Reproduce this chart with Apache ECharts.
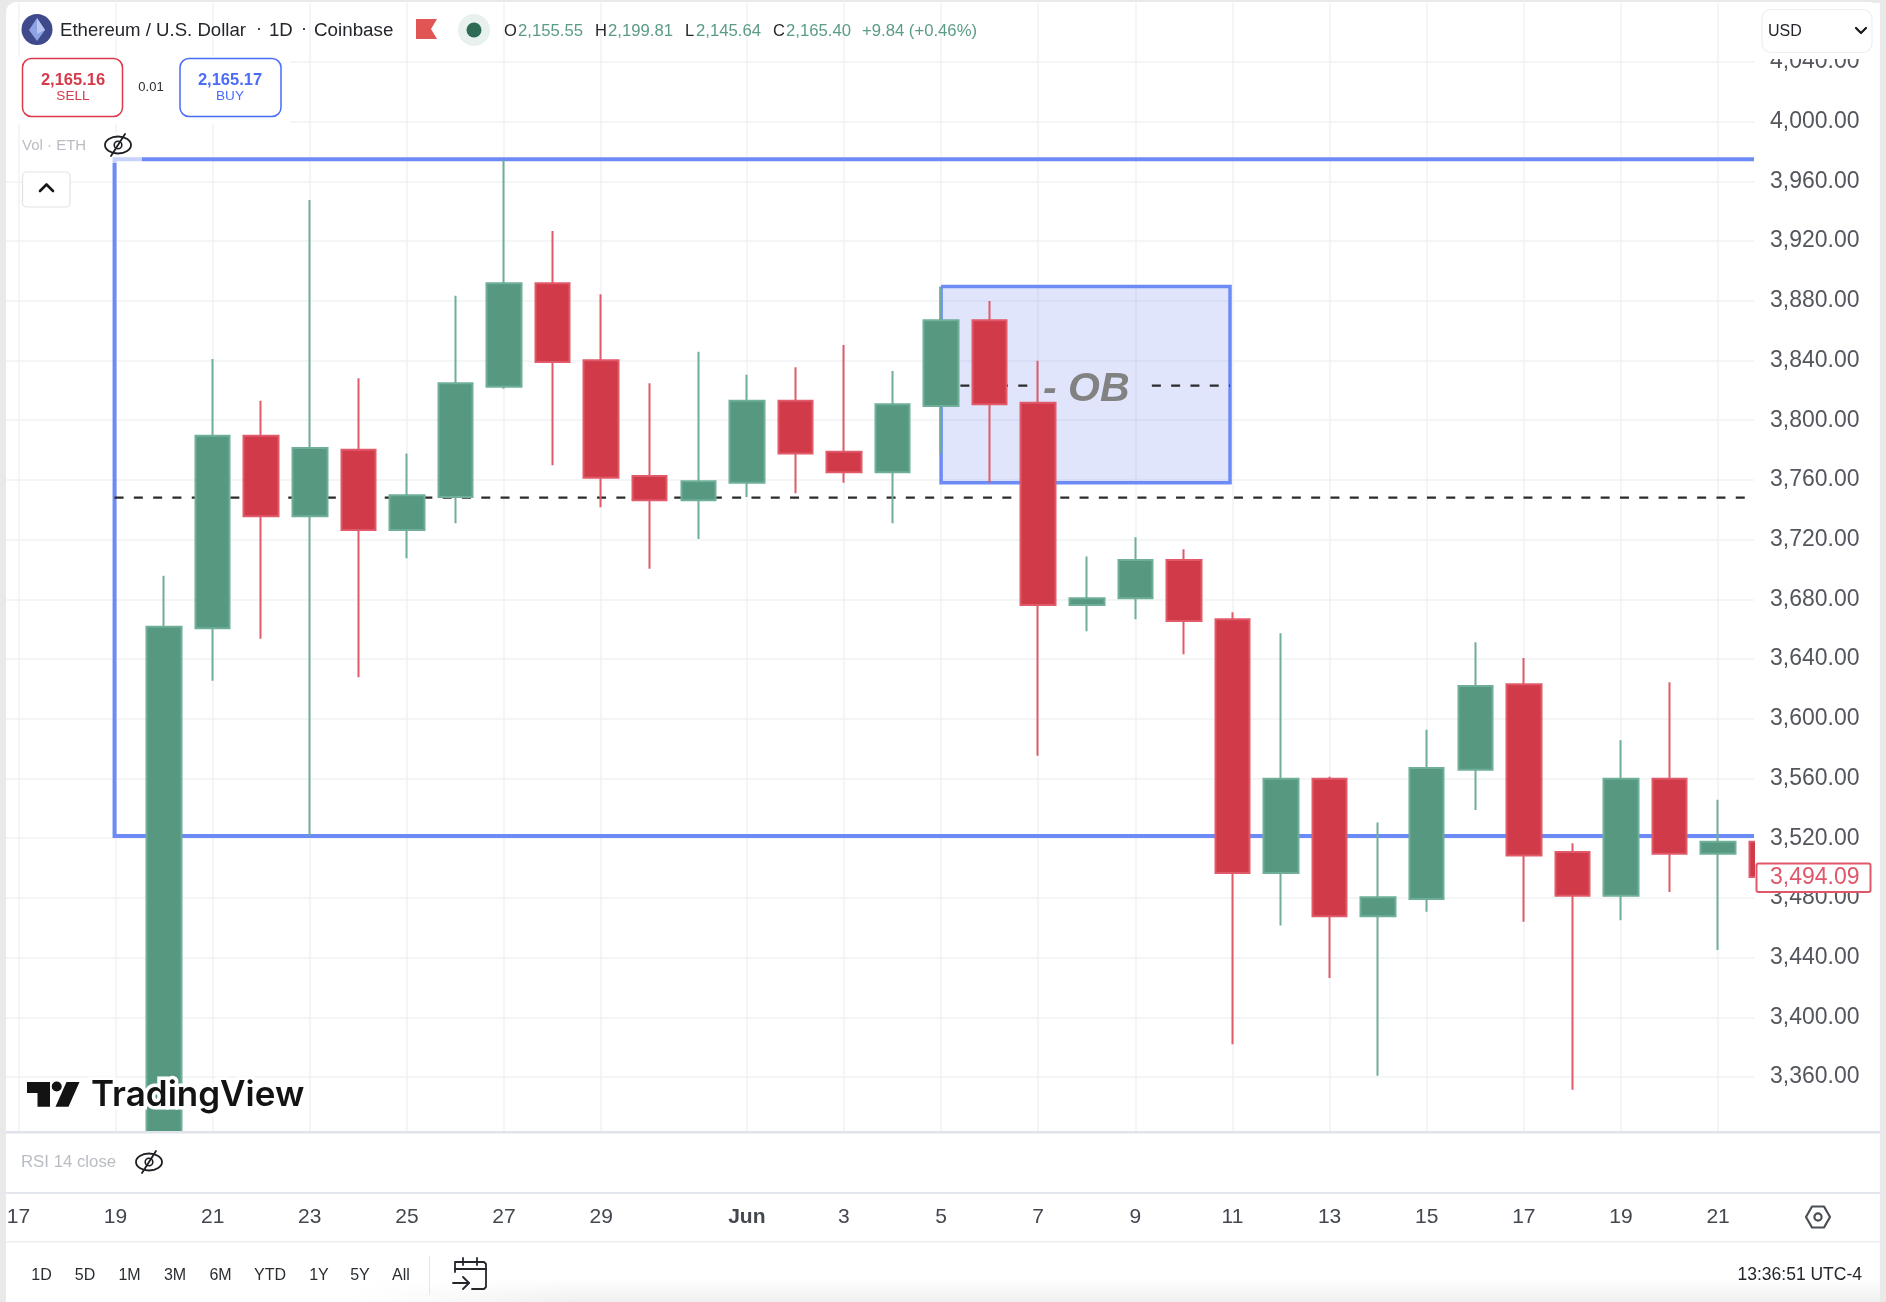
<!DOCTYPE html>
<html><head><meta charset="utf-8">
<script src="https://cdn.jsdelivr.net/npm/echarts@6/dist/echarts.min.js"></script>
<style>
html,body{margin:0;padding:0;background:#e9e9e9;width:1886px;height:1302px;overflow:hidden}
#panel{position:absolute;left:6px;top:2px;width:1874px;height:1300px;background:#fff;border-radius:10px 10px 0 0}
#fade{position:absolute;left:350px;top:1278px;width:1530px;height:24px;background:linear-gradient(to bottom,rgba(238,238,238,0),rgba(238,238,238,.9));-webkit-mask-image:linear-gradient(to right,transparent,#000 220px);mask-image:linear-gradient(to right,transparent,#000 220px)}
#c{position:absolute;left:0;top:0;width:1886px;height:1302px}
</style></head><body>
<div id="panel"></div><div id="fade"></div><div id="c"></div>
<script>
// Days counted from 17 May (index 0)
const days   = [3,4,5,6,7,8,9,10,11,12,13,14,15,16,17,18,19,20,21,22,23,24,25,26,27,28,29,30,31,32,33,34,35,36];
// The first candle runs off the bottom of the pane, so its open and low are the pane's lower edge.
const opens  = [3323.2,3660.6,3789.6,3735.6,3780.3,3726.5,3748.6,3822.5,3891.7,3840.2,3762.6,3746.4,3758.2,3813.1,3778.9,3765.1,3809.5,3867,3811.7,3676.2,3680.7,3706.4,3666.6,3496.7,3559.9,3467.7,3479.3,3565.9,3623.1,3510.7,3481.5,3559.9,3509.6,3517.6];
const closes = [3661.7,3789.6,3735.6,3781.4,3726.5,3749.7,3824.7,3891.7,3839,3761.5,3746.4,3759.1,3813.1,3777.8,3765.1,3810.7,3867,3810.7,3676.2,3680.7,3706.4,3665.5,3496.7,3559.9,3467.7,3480.4,3567,3622,3508.5,3481.5,3559.9,3509.6,3517.6,3494.09];
const highs  = [3695.9,3841,3813.1,3947.5,3828.1,3777.8,3883.4,3974.3,3926.8,3884.4,3824.7,3845.9,3830.5,3835.5,3850.4,3833,3889.3,3879.9,3839.9,3708.8,3721.6,3713.5,3671.3,3657.3,3561.2,3530.6,3592.7,3651.2,3640.7,3516.6,3585.6,3624.4,3545.8,3530];
const lows   = [3323.2,3625.5,3653.6,3521.5,3627.8,3707.5,3731,3821.1,3769.8,3741.7,3700.5,3720.4,3748.6,3751.1,3758.2,3731,3777.8,3758.2,3575.3,3658.6,3666.6,3643.2,3381.9,3461.6,3426.3,3360.9,3470.8,3538.9,3464.1,3351.5,3465,3484,3445.1,3480];
const xTickDays   = [0,2,4,6,8,10,12,15,17,19,21,23,25,27,29,31,33,35];
const xTickLabels = ['17','19','21','23','25','27','29','Jun','3','5','7','9','11','13','15','17','19','21'];
const yTicks = [4040,4000,3960,3920,3880,3840,3800,3760,3720,3680,3640,3600,3560,3520,3480,3440,3400,3360];
const xMin = -0.2554, xMax = 35.74, yMin = 3323.2, yMax = 4079.5;
const rangeBox = [[xMax,3974.8],[1.98,3974.8],[1.98,3521.5],[xMax,3521.5]];
const obBox = [[19,3889.6],[24.95,3889.6],[24.95,3758.2],[19,3758.2],[19,3889.6]];
const levelLong = [[1.98,3748.1],[xMax,3748.1]];
const levelObLeft = [[19,3823.2],[20.78,3823.2]];
const levelObRight = [[23.34,3823.2],[24.95,3823.2]];
const lastPrice = '3,494.09';

const SANS = '"Liberation Sans", Arial, sans-serif';
const Z = 100;
function txt(text,x,y,size,fill,o){o=o||{};
  return {type:'text',z:o.z||Z,silent:true,x:x,y:y,style:{text:text,fill:fill,
    font:(o.style?o.style+' ':'')+size+'px '+(o.family||SANS),
    align:o.align||'left',verticalAlign:'middle',textAlign:o.align||'left',textVerticalAlign:'middle',
    stroke:o.stroke,lineWidth:o.lineWidth,opacity:o.opacity}};
}
function rect(x,y,w,h,fill,o){o=o||{};
  return {type:'rect',z:o.z||Z,silent:true,shape:{x:x,y:y,width:w,height:h,r:o.r||0},style:{fill:fill,stroke:o.stroke,lineWidth:o.lw}};
}
function pl(points,stroke,lw){
  return {type:'polyline',z:Z,silent:true,shape:{points:points},style:{fill:'none',stroke:stroke,lineWidth:lw,lineCap:'round',lineJoin:'round'}};
}
function eye(cx,cy){
  const c='#1d1f23';
  return [
    {type:'ellipse',z:Z,silent:true,shape:{cx:cx,cy:cy,rx:13,ry:8.5},style:{fill:'none',stroke:c,lineWidth:1.8}},
    {type:'circle',z:Z,silent:true,shape:{cx:cx,cy:cy,r:3.8},style:{fill:'none',stroke:c,lineWidth:1.6}},
    pl([[cx-7,cy+11],[cx+7,cy-11]],c,1.8)
  ];
}
const graphics=[
  rect(1755,3,125,1128,'#fff',{z:90}),      // right strip: hides the part of the last candle beyond the pane
  rect(1755,3,124,56,'#fff',{z:Z-2}),
  rect(6,1131,1874,2.5,'#e0e3eb'),
  rect(6,1192,1874,2,'#e3e6ec'),
  rect(6,1241,1874,1.5,'#eceef1'),
  rect(429,1256,1,39,'#e3e5e8'),
  rect(112,156,30,7,'rgba(255,255,255,.62)'),
  {type:'circle',z:Z,silent:true,shape:{cx:37,cy:29.5,r:15.5},style:{fill:'#3f4a8c'}},
  {type:'polygon',z:Z,silent:true,shape:{points:[[37,18],[45,30],[37,41],[29,30]]},style:{fill:'#8ea3e4'}},
  {type:'polygon',z:Z,silent:true,shape:{points:[[37,18],[45,30],[37,34]]},style:{fill:'#b9c6f0'}},
  txt('Ethereum / U.S. Dollar',60,31,18.6,'#23262b'),
  txt('·',256,29,18,'#23262b'),
  txt('1D',269,31,18.6,'#23262b'),
  txt('·',301,29,18,'#23262b'),
  txt('Coinbase',314,31,18.8,'#23262b'),
  {type:'polygon',z:Z,silent:true,shape:{points:[[416,19],[437,19],[431,29],[437,39],[416,39]]},style:{fill:'#e25555'}},
  {type:'circle',z:Z,silent:true,shape:{cx:474,cy:30,r:16},style:{fill:'#e8f1ed'}},
  {type:'circle',z:Z,silent:true,shape:{cx:474,cy:30,r:7.5},style:{fill:'#2f6a55'}},
  txt('O',504,31,16.5,'#23262b'),txt('2,155.55',518,31,16.7,'#5b9c84'),
  txt('H',595,31,16.5,'#23262b'),txt('2,199.81',608,31,16.7,'#5b9c84'),
  txt('L',685,31,16.5,'#23262b'),txt('2,145.64',696,31,16.7,'#5b9c84'),
  txt('C',773,31,16.5,'#23262b'),txt('2,165.40',786,31,16.7,'#5b9c84'),
  txt('+9.84 (+0.46%)',862,31,16.7,'#5b9c84'),
  rect(6,56,284,68,'#fff',{z:Z-1}),
  rect(22.5,58.5,100,58,'#fff',{r:9,stroke:'#dc3a4a',lw:1.5}),
  txt('2,165.16',73,80,16.5,'#d63a4a',{align:'center',style:'bold'}),
  txt('SELL',73,96.5,13.6,'#d63a4a',{align:'center'}),
  txt('0.01',151,87,13,'#2a2e33',{align:'center'}),
  rect(180,58.5,101,58,'#fff',{r:9,stroke:'#4a6cf7',lw:1.5}),
  txt('2,165.17',230,80,16.5,'#4a6cf7',{align:'center',style:'bold'}),
  txt('BUY',230,96.5,13.6,'#4a6cf7',{align:'center'}),
  txt('Vol · ETH',22,146,15,'#b9bdc3'),
  ...eye(118,145),
  rect(22.5,172,47.5,35,'#fff',{r:4,stroke:'#e2e3e5',lw:1.2}),
  pl([[40,191],[46.5,184.5],[53,191]],'#15171a',2.6),
  rect(1762,9.5,110,43,'#fff',{r:9,stroke:'#eceef0',lw:1.2}),
  txt('USD',1768,31.5,16,'#23262b'),
  pl([[1856,28],[1861,33],[1866,28]],'#15171a',2.2),
  txt('- OB',1043,390,41,'#828282',{style:'italic bold'}),
  txt('TradingView',91,1095,35,'#131313',{style:'600',family:'Inter, sans-serif',stroke:'#fff',lineWidth:7,z:Z-1}),
  {type:'polygon',z:Z,silent:true,shape:{points:[[27,1082],[50,1082],[50,1106.7],[37.5,1106.7],[37.5,1093],[27,1093]]},style:{fill:'#131313'}},
  {type:'circle',z:Z,silent:true,shape:{cx:56.7,cy:1086.5,r:5},style:{fill:'#131313'}},
  {type:'polygon',z:Z,silent:true,shape:{points:[[66.5,1082],[79.5,1082],[68.5,1106.7],[55.5,1106.7]]},style:{fill:'#131313'}},
  txt('RSI 14 close',21,1162.5,16.8,'#b9bdc3'),
  ...eye(149,1162),
  txt('1D',41.5,1275.5,16,'#2a2e33',{align:'center'}),
  txt('5D',85,1275.5,16,'#2a2e33',{align:'center'}),
  txt('1M',129.5,1275.5,16,'#2a2e33',{align:'center'}),
  txt('3M',175,1275.5,16,'#2a2e33',{align:'center'}),
  txt('6M',220.5,1275.5,16,'#2a2e33',{align:'center'}),
  txt('YTD',270,1275.5,16,'#2a2e33',{align:'center'}),
  txt('1Y',319,1275.5,16,'#2a2e33',{align:'center'}),
  txt('5Y',360,1275.5,16,'#2a2e33',{align:'center'}),
  txt('All',401,1275.5,16,'#2a2e33',{align:'center'}),
  pl([[455,1272],[455,1262],[484,1262],[486,1264],[486,1287],[484,1289],[472,1289]],'#23262b',1.8),
  pl([[455,1269],[486,1269]],'#23262b',1.8),
  pl([[463,1258],[463,1265]],'#23262b',1.8),
  pl([[477,1258],[477,1265]],'#23262b',1.8),
  pl([[453,1283],[469,1283]],'#23262b',1.8),
  pl([[463,1277],[469,1283],[463,1289]],'#23262b',1.8),
  txt('13:36:51 UTC-4',1862,1275,17.5,'#23262b',{align:'right'}),
  {type:'polygon',z:Z,silent:true,shape:{points:[[1806,1217],[1812,1206.5],[1824,1206.5],[1830,1217],[1824,1227.5],[1812,1227.5]]},style:{fill:'none',stroke:'#4a4e55',lineWidth:2.2,lineJoin:'round'}},
  {type:'circle',z:Z,silent:true,shape:{cx:1818,cy:1217,r:3.6},style:{fill:'none',stroke:'#4a4e55',lineWidth:2.2}},
  rect(1756.5,863.5,114,28.5,'#fff',{r:2,stroke:'#e0566a',lw:2}),
  txt(lastPrice,1770,877.5,23,'#e0566a'),
];

const quietLine=(data,color,width,dash)=>({type:'line',z:1,silent:true,symbol:'none',animation:false,data:data,
  lineStyle:{color:color,width:width,type:dash||'solid',join:'miter'},clip:true});

const chart=echarts.init(document.getElementById('c'));
chart.setOption({
  animation:false,
  backgroundColor:'transparent',
  textStyle:{fontFamily:SANS},
  grid:{left:6,right:132,top:3,bottom:170,containLabel:false},
  xAxis:{type:'value',min:xMin,max:xMax,
    axisLine:{show:false},axisTick:{show:false,customValues:xTickDays},
    splitLine:{show:true,lineStyle:{color:'#f1f2f4',width:1.5}},
    axisLabel:{customValues:xTickDays,margin:75,color:'#43474e',fontSize:21,fontFamily:SANS,
      showMinLabel:true,showMaxLabel:true,hideOverlap:false,
      formatter:v=>{const s=xTickLabels[xTickDays.indexOf(v)]||'';return s==='Jun'?'{b|Jun}':s;},
      rich:{b:{fontWeight:'bold',fontSize:21,color:'#43474e',fontFamily:SANS}}}},
  yAxis:[
    {type:'value',position:'right',min:yMin,max:yMax,
     axisLine:{show:false},axisTick:{show:false,customValues:yTicks},axisLabel:{show:false,customValues:yTicks},
     splitLine:{show:true,lineStyle:{color:'#f1f2f4',width:1.5}}},
    {type:'value',position:'right',min:yMin,max:yMax,z:95,
     axisLine:{show:false},axisTick:{show:false,customValues:yTicks},splitLine:{show:false},
     axisLabel:{customValues:yTicks,margin:16,color:'#53565c',fontSize:23,fontFamily:SANS,padding:[0,0,4,0],
      formatter:v=>v.toLocaleString('en-US',{minimumFractionDigits:2,maximumFractionDigits:2})}}
  ],
  graphic:{elements:graphics},
  series:[
    Object.assign(quietLine(obBox,'#6d8bf7',3.5),{markArea:{silent:true,z:1,itemStyle:{color:'rgba(63,94,235,0.16)'},
      data:[[{coord:[19,3889.6]},{coord:[24.95,3758.2]}]]}}),
    quietLine(rangeBox,'#6d8bf7',4),
    quietLine(levelLong,'#2b2b2b',2.3,[9,10.3]),
    quietLine(levelObLeft,'#2b2b2b',2.3,[9,10.3]),
    quietLine(levelObRight,'#2b2b2b',2.3,[9,10.3]),
    {type:'candlestick',z:3,layout:'horizontal',barWidth:35,silent:true,
      data:days.map((d,i)=>[d,opens[i],closes[i],lows[i],highs[i]]),
      itemStyle:{color:'#579880',color0:'#d13a48',borderColor:'#6fae98',borderColor0:'#e05a69',borderWidth:2}}
  ]
});
</script></body></html>
